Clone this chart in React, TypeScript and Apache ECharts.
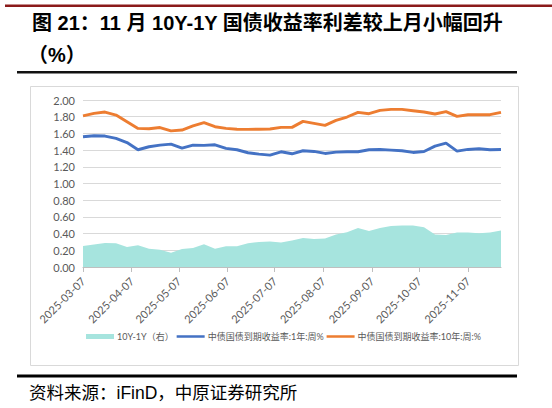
import React, { useEffect, useRef } from "react";
import * as echarts from "echarts";

const dates = [
  "2025-03-07", "2025-03-14", "2025-03-21", "2025-03-28",
  "2025-04-04", "2025-04-11", "2025-04-18", "2025-04-25",
  "2025-05-02", "2025-05-09", "2025-05-16", "2025-05-23", "2025-05-30",
  "2025-06-06", "2025-06-13", "2025-06-20", "2025-06-27",
  "2025-07-04", "2025-07-11", "2025-07-18", "2025-07-25",
  "2025-08-01", "2025-08-08", "2025-08-15", "2025-08-22", "2025-08-29",
  "2025-09-05", "2025-09-12", "2025-09-19", "2025-09-26",
  "2025-10-03", "2025-10-10", "2025-10-17", "2025-10-24", "2025-10-31",
  "2025-11-07", "2025-11-14", "2025-11-21", "2025-11-28",
];

const spread10y1y = [
  0.252, 0.27, 0.288, 0.284, 0.24, 0.26, 0.22, 0.208, 0.172, 0.216, 0.228, 0.272, 0.22,
  0.248, 0.248, 0.284, 0.3, 0.304, 0.292, 0.316, 0.348, 0.336, 0.34, 0.388, 0.416, 0.468,
  0.432, 0.468, 0.492, 0.496, 0.496, 0.476, 0.388, 0.384, 0.412, 0.412, 0.404, 0.412, 0.436,
];

const yield1y = [
  1.56, 1.572, 1.568, 1.54, 1.49, 1.404, 1.44, 1.46, 1.472, 1.424, 1.46, 1.456, 1.464,
  1.42, 1.404, 1.368, 1.352, 1.34, 1.38, 1.356, 1.392, 1.384, 1.36, 1.376, 1.38, 1.38,
  1.404, 1.408, 1.4, 1.392, 1.372, 1.384, 1.448, 1.484, 1.388, 1.408, 1.416, 1.404, 1.408,
];

const yield10y = [
  1.81, 1.84, 1.856, 1.82, 1.74, 1.66, 1.656, 1.67, 1.63, 1.64, 1.69, 1.73, 1.68,
  1.66, 1.65, 1.648, 1.65, 1.652, 1.672, 1.672, 1.744, 1.72, 1.696, 1.756, 1.796, 1.852,
  1.836, 1.876, 1.888, 1.888, 1.872, 1.856, 1.832, 1.86, 1.804, 1.824, 1.824, 1.824, 1.852,
];

const xTickLabels = [
  "2025-03-07", "2025-04-07", "2025-05-07", "2025-06-07", "2025-07-07",
  "2025-08-07", "2025-09-07", "2025-10-07", "2025-11-07",
];

const seriesNames = ["10Y-1Y（右）", "中债国债到期收益率:1年:周%", "中债国债到期收益率:10年:周:%"];

const titleLine1 = "图 21：11 月 10Y-1Y 国债收益率利差较上月小幅回升";
const titleLine2 = "（%）";
const footerText = "资料来源：iFinD，中原证券研究所";

const FONT = 'Lato, "Noto Sans CJK SC", sans-serif';
const TITLE_FONT = '"Liberation Sans", "Noto Sans CJK SC", sans-serif';
const LINE_ICON = "path://M0,0 L0.01,0 M0,5 L0.01,5 M0,1.2 L28,1.2 L28,3.8 L0,3.8 Z";

export default function App() {
  const ref = useRef<HTMLDivElement>(null);

  useEffect(() => {
    if (!ref.current) return;
    const chart = echarts.init(ref.current, null, { renderer: "svg" });
    const pair = (vals: number[]) => dates.map((d, i) => [d, vals[i]]);

    chart.setOption({
      animation: false,
      backgroundColor: "#ffffff",
      grid: { left: 83, right: 51, top: 100, bottom: 141, containLabel: false },
      xAxis: {
        type: "time",
        min: dates[0],
        max: dates[dates.length - 1],
        axisLine: { show: true, lineStyle: { color: "#bfbfbf", width: 1 } },
        axisTick: { show: true, length: 5, lineStyle: { color: "#bfbfbf" }, customValues: xTickLabels },
        splitLine: { show: false },
        axisLabel: {
          customValues: xTickLabels,
          formatter: "{yyyy}-{MM}-{dd}",
          rotate: 45,
          fontSize: 11,
          color: "#595959",
          fontFamily: FONT,
          margin: 12,
          hideOverlap: false,
        },
      },
      yAxis: [
        {
          type: "value",
          min: 0,
          max: 2,
          interval: 0.2,
          axisLine: { show: false },
          axisTick: { show: false },
          splitLine: { show: true, lineStyle: { color: "#d9d9d9", width: 1 } },
          axisLabel: {
            formatter: (v: number) => v.toFixed(2),
            fontSize: 11,
            color: "#595959",
            fontFamily: FONT,
            margin: 8,
          },
        },
        {
          type: "value",
          min: 0,
          max: 2,
          interval: 0.2,
          show: false,
          splitLine: { show: false },
        },
      ],
      legend: {
        left: 81,
        top: 327,
        itemWidth: 28,
        itemHeight: 5,
        itemGap: 3,
        textStyle: { fontSize: 9, color: "#595959", fontFamily: FONT, padding: [0, 0, 0, -2] },
        data: [
          { name: seriesNames[0], icon: "rect" },
          { name: seriesNames[1], icon: LINE_ICON },
          { name: seriesNames[2], icon: LINE_ICON },
        ],
      },
      series: [
        {
          name: seriesNames[0],
          type: "line",
          yAxisIndex: 1,
          data: pair(spread10y1y),
          symbol: "none",
          color: "#a6e4de",
          lineStyle: { width: 0, color: "#a6e4de" },
          areaStyle: { color: "#a6e4de", opacity: 1 },
          z: 1,
        },
        {
          name: seriesNames[1],
          type: "line",
          data: pair(yield1y),
          symbol: "none",
          color: "#4472c4",
          lineStyle: { width: 2.9, color: "#4472c4" },
          z: 3,
        },
        {
          name: seriesNames[2],
          type: "line",
          data: pair(yield10y),
          symbol: "none",
          color: "#ed7d31",
          lineStyle: { width: 2.9, color: "#ed7d31" },
          z: 3,
        },
      ],
      graphic: [
        { type: "rect", left: 5, top: 4.5, shape: { width: 547, height: 2.5 }, style: { fill: "#8b1a1a" } },
        {
          type: "text",
          left: 32,
          top: 13,
          style: { text: titleLine1, font: `bold 20px ${TITLE_FONT}`, fill: "#000000" },
        },
        {
          type: "text",
          left: 28,
          top: 45,
          style: { text: titleLine2, font: `bold 20px ${TITLE_FONT}`, fill: "#000000" },
        },
        { type: "rect", left: 17, top: 71, shape: { width: 500, height: 2.5 }, style: { fill: "#111111" } },
        {
          type: "rect",
          left: 28,
          top: 84,
          shape: { x: 0.5, y: 0.5, width: 488, height: 279 },
          style: { fill: "none", stroke: "#d9d9d9", lineWidth: 1 },
          silent: true,
        },
        { type: "rect", left: 17, top: 374.5, shape: { width: 500, height: 3 }, style: { fill: "#000000" } },
        {
          type: "text",
          left: 29,
          top: 384,
          style: { text: footerText, font: `17.5px ${TITLE_FONT}`, fill: "#000000" },
        },
      ],
    });

    return () => chart.dispose();
  }, []);

  return (
    <div
      ref={ref}
      style={{ position: "absolute", left: 0, top: 0, width: 552, height: 408 }}
    />
  );
}
